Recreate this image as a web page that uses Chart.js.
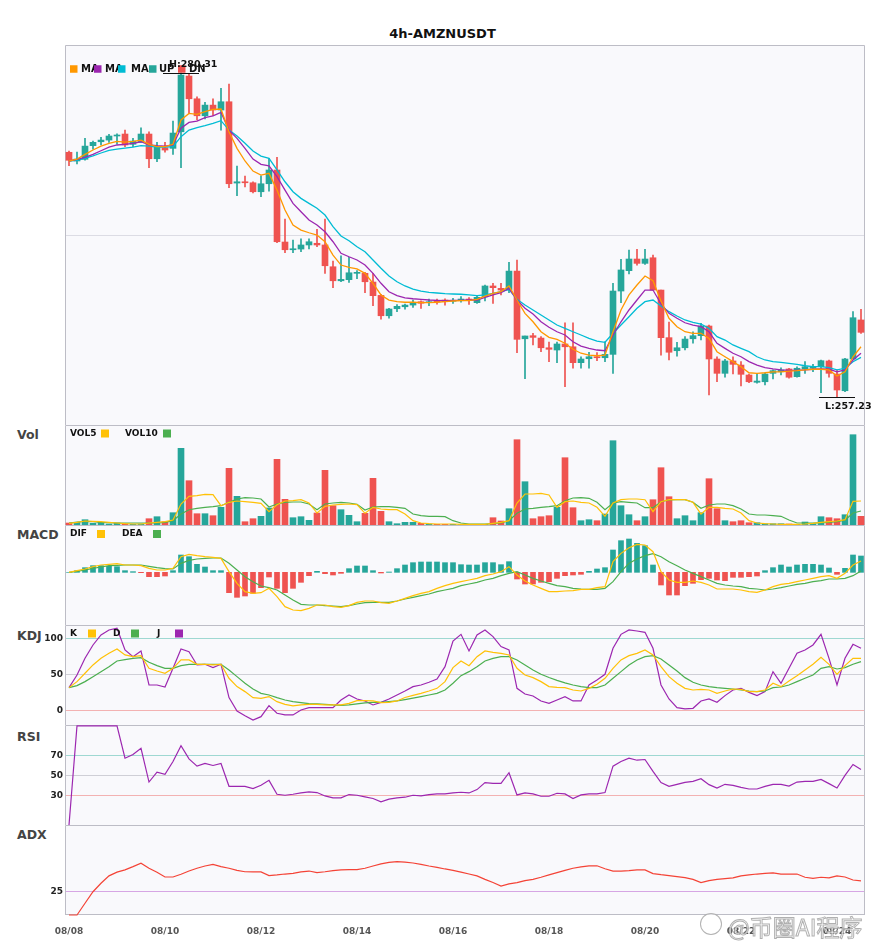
<!DOCTYPE html>
<html lang="en">
<head>
<meta charset="UTF-8">
<title>4h-AMZNUSDT</title>
<style>
  body { margin: 0; background: #fff; }
  #wrap { position: relative; width: 885px; height: 950px; font-family: "DejaVu Sans", sans-serif; overflow: hidden; }
  #wrap canvas { position: absolute; left: 0; }
  .ttl { position: absolute; left: 0; width: 885px; top: 26px; text-align: center; font-weight: bold; font-size: 13px; color: #111; }
  .lbl { position: absolute; left: 17px; font-weight: bold; font-size: 12.5px; color: #444; line-height: 15px; }
  .wm { position: absolute; left: 728px; top: 909px; font-family: "Noto Sans CJK SC", sans-serif; font-size: 23px; color: rgba(255,255,255,0.75); -webkit-text-stroke: 1px rgba(150,150,150,0.75); white-space: nowrap; }
  .logo { position: absolute; left: 700px; top: 913px; width: 20px; height: 20px; border: 1.5px solid rgba(160,160,160,0.8); border-radius: 50%; background: rgba(255,255,255,0.6); }
</style>
<script src="https://cdn.jsdelivr.net/npm/chart.js"></script>
</head>
<body>
<div id="wrap">
  <div class="ttl">4h-AMZNUSDT</div>
  <div class="lbl" style="top:427px">Vol</div>
  <div class="lbl" style="top:527px">MACD</div>
  <div class="lbl" style="top:628px">KDJ</div>
  <div class="lbl" style="top:729px">RSI</div>
  <div class="lbl" style="top:827px">ADX</div>
</div>
<script>
// 4h candles, 6 per day, first one 08/08 00:00
const dayLabels = ['08/08', '08/10', '08/12', '08/14', '08/16', '08/18', '08/20', '08/22', '08/24'];
const dayStep = 12;

const opens = [274.66, 274.04, 274.16, 275.13, 275.41, 275.53, 275.82, 275.96, 275.23, 275.37,
  275.96, 274.20, 274.98, 274.94, 276.12, 280.09, 278.47, 277.26, 278.02, 277.67,
  278.26, 272.47, 272.56, 272.49, 271.85, 272.42, 273.40, 268.27, 267.72, 267.77,
  268.06, 268.18, 268.06, 266.51, 265.51, 265.59, 266.04, 266.04, 265.42, 264.47,
  263.02, 263.52, 263.66, 263.78, 264.02, 263.95, 264.12, 264.14, 264.05, 264.09,
  264.21, 263.95, 264.37, 265.14, 264.97, 264.85, 266.20, 261.38, 261.60, 261.43,
  260.74, 260.58, 261.01, 260.81, 259.68, 259.96, 260.10, 260.03, 260.27, 264.78,
  266.23, 267.06, 266.75, 267.15, 264.85, 261.46, 260.53, 260.74, 261.38, 261.60,
  262.29, 259.94, 258.92, 259.80, 259.51, 258.80, 258.28, 258.32, 258.92, 259.03,
  259.23, 258.68, 259.23, 259.28, 259.39, 259.80, 258.87, 257.68, 259.94, 262.72];
const highs = [274.75, 274.68, 275.65, 275.46, 275.72, 275.94, 275.98, 276.24, 275.65, 276.41,
  276.12, 275.37, 275.37, 276.88, 280.31, 280.23, 278.61, 278.22, 278.47, 279.21,
  279.52, 273.68, 272.97, 272.56, 272.99, 274.23, 274.30, 269.91, 268.41, 268.50,
  268.50, 269.17, 269.91, 266.92, 267.29, 267.18, 266.23, 266.11, 266.04, 264.55,
  263.55, 263.81, 263.85, 264.14, 264.09, 264.21, 264.21, 264.23, 264.26, 264.38,
  264.32, 264.42, 265.21, 265.33, 265.33, 266.82, 266.99, 261.58, 261.77, 261.53,
  261.15, 261.15, 262.52, 262.52, 260.10, 260.42, 260.39, 261.17, 265.33, 267.04,
  267.70, 267.75, 267.75, 267.34, 264.85, 262.57, 261.13, 261.53, 261.88, 262.48,
  262.36, 260.10, 259.92, 260.10, 259.75, 258.87, 258.87, 258.96, 259.16, 259.32,
  259.28, 259.39, 259.75, 259.56, 259.87, 259.87, 259.16, 259.99, 263.31, 263.48];
const lows = [273.70, 273.84, 274.09, 274.89, 275.18, 275.37, 275.23, 275.06, 275.06, 275.37,
  273.56, 273.99, 274.66, 274.51, 273.56, 277.43, 276.96, 277.03, 277.26, 276.24,
  272.14, 271.57, 272.19, 271.76, 271.50, 271.90, 268.22, 267.51, 267.51, 267.58,
  267.77, 267.94, 266.04, 265.02, 265.44, 265.40, 265.66, 264.66, 263.73, 262.77,
  262.84, 263.31, 263.48, 263.62, 263.55, 263.73, 263.85, 263.78, 263.90, 263.98,
  263.82, 263.90, 264.07, 263.90, 264.50, 264.66, 260.39, 258.54, 260.94, 260.46,
  259.75, 259.68, 257.97, 259.28, 259.28, 259.28, 259.82, 259.75, 258.92, 263.95,
  265.99, 266.63, 266.68, 264.85, 260.22, 259.87, 260.15, 260.58, 261.06, 261.29,
  257.38, 258.32, 258.64, 258.87, 258.02, 258.25, 258.21, 258.09, 258.52, 258.80,
  258.57, 258.64, 258.92, 259.04, 257.54, 258.64, 257.23, 257.61, 259.94, 261.77];
const closes = [274.09, 274.18, 275.10, 275.37, 275.53, 275.82, 275.89, 275.18, 275.46, 275.96,
  274.20, 275.06, 274.82, 276.03, 280.16, 278.47, 277.26, 278.02, 277.67, 278.26,
  272.42, 272.56, 272.49, 271.85, 272.42, 273.40, 268.29, 267.72, 267.79, 268.06,
  268.29, 268.06, 266.58, 265.51, 265.61, 266.08, 266.11, 265.44, 264.45, 263.02,
  263.50, 263.69, 263.78, 263.98, 263.91, 264.02, 264.00, 264.02, 264.12, 264.21,
  264.10, 264.33, 265.14, 265.02, 264.85, 266.20, 261.34, 261.58, 261.48, 260.74,
  260.63, 261.01, 260.81, 259.68, 259.94, 260.10, 260.03, 260.27, 264.78, 266.28,
  267.06, 266.75, 267.06, 264.85, 261.46, 260.42, 260.74, 261.36, 261.60, 262.29,
  259.94, 258.92, 259.80, 259.56, 258.85, 258.32, 258.37, 258.87, 259.11, 259.16,
  258.64, 259.28, 259.39, 259.35, 259.82, 258.92, 257.73, 259.94, 262.88, 261.84];

const ma5 = [274.04, 274.18, 274.51, 274.82, 275.10, 275.30, 275.44, 275.39, 275.44, 275.53,
  275.23, 275.06, 275.06, 275.23, 276.96, 277.43, 277.36, 277.55, 277.72, 277.74,
  276.12, 274.94, 274.04, 273.32, 273.04, 273.16, 271.97, 270.55, 269.48, 269.12,
  268.93, 268.77, 268.29, 267.34, 266.63, 266.47, 266.35, 266.04, 265.33, 264.50,
  264.14, 264.02, 263.98, 263.98, 263.95, 263.95, 263.98, 264.02, 264.07, 264.09,
  264.10, 264.19, 264.42, 264.62, 264.73, 265.14, 264.14, 263.19, 262.59, 261.88,
  261.48, 261.34, 261.06, 260.63, 260.35, 260.22, 260.17, 260.22, 261.88, 263.43,
  264.50, 265.21, 265.85, 265.51, 264.07, 262.84, 262.24, 261.88, 261.77, 261.77,
  261.41, 260.46, 260.10, 259.75, 259.39, 258.96, 258.92, 258.96, 259.03, 259.03,
  259.08, 259.11, 259.16, 259.21, 259.21, 259.16, 258.73, 259.03, 260.10, 260.81];
const ma10 = [274.04, 274.16, 274.30, 274.51, 274.77, 275.03, 275.18, 275.23, 275.30, 275.41,
  275.18, 275.13, 275.10, 275.18, 276.37, 276.79, 276.88, 277.12, 277.26, 277.50,
  276.24, 275.65, 274.94, 274.18, 273.80, 273.70, 272.92, 271.97, 271.02, 270.43,
  269.84, 269.48, 269.00, 268.29, 267.47, 267.22, 266.99, 266.63, 266.04, 265.33,
  264.73, 264.45, 264.30, 264.23, 264.19, 264.14, 264.12, 264.09, 264.12, 264.12,
  264.14, 264.14, 264.33, 264.50, 264.66, 264.97, 264.14, 263.55, 263.14, 262.59,
  262.20, 261.88, 261.65, 261.17, 260.86, 260.70, 260.58, 260.53, 261.65, 262.59,
  263.43, 264.14, 264.85, 264.85, 263.86, 263.19, 262.84, 262.52, 262.36, 262.24,
  261.88, 261.06, 260.70, 260.35, 260.10, 259.75, 259.51, 259.32, 259.23, 259.16,
  259.13, 259.13, 259.16, 259.21, 259.23, 259.21, 259.03, 259.16, 259.87, 260.35];
const ma20 = [274.04, 274.09, 274.23, 274.41, 274.61, 274.80, 274.89, 274.96, 275.03, 275.13,
  275.10, 275.03, 275.03, 275.06, 275.77, 276.24, 276.41, 276.55, 276.72, 276.91,
  276.24, 275.82, 275.30, 274.75, 274.39, 274.23, 273.40, 272.56, 271.85, 271.38,
  271.02, 270.67, 270.19, 269.36, 268.70, 268.36, 267.93, 267.58, 266.99, 266.40,
  265.85, 265.44, 265.14, 264.92, 264.78, 264.69, 264.64, 264.59, 264.57, 264.55,
  264.50, 264.45, 264.50, 264.62, 264.73, 264.90, 264.19, 263.78, 263.43, 263.07,
  262.72, 262.36, 262.12, 261.88, 261.65, 261.41, 261.22, 261.13, 261.77, 262.36,
  262.95, 263.55, 264.02, 264.14, 263.71, 263.31, 263.00, 262.72, 262.55, 262.43,
  262.12, 261.53, 261.29, 260.94, 260.70, 260.46, 260.10, 259.87, 259.75, 259.70,
  259.63, 259.56, 259.46, 259.39, 259.39, 259.32, 259.16, 259.28, 259.75, 260.06];

// volume (K)
const vol = [2, 2.7, 5.3, 1.7, 2.7, 1, 2, 1, 0.7, 1,
  6.3, 8.3, 3.3, 12.3, 76.7, 44.3, 11.3, 11.3, 9.3, 17.7,
  56.7, 28.7, 3.3, 6.3, 8.7, 17, 65.7, 25.7, 7.3, 8.3,
  4.7, 12, 54.7, 19.3, 15.3, 9.7, 3.3, 11.7, 46.7, 13.7,
  3.3, 1.3, 2.7, 2.7, 1.7, 1, 0.7, 0.7, 0.7, 0.3,
  0.7, 0.7, 0.7, 7.3, 4, 16.3, 85.3, 43.3, 6.3, 8.3,
  9.3, 17.7, 67.3, 17.3, 4.3, 5.3, 4.3, 11, 84.3, 19.3,
  10.3, 4.3, 8.3, 25.3, 57.3, 28.3, 6.3, 9.3, 4.3, 12.3,
  46.3, 16.3, 4.3, 3.3, 4.3, 2.3, 2.3, 1.3, 1.3, 1.3,
  1, 0.7, 3, 1.3, 8.3, 7.3, 6.3, 10.3, 90.3, 8.7];
const vol5 = [1.7, 2.7, 4, 3.7, 3.3, 2.7, 2, 1.3, 1, 1,
  2, 2.7, 3.3, 5, 21, 28.7, 29.3, 30.7, 30.3, 19.3,
  22.7, 24, 23.3, 22.7, 21.7, 13.3, 20.3, 24, 24.3, 25.3,
  22, 12, 18.7, 20, 20.7, 21, 20.3, 11.7, 17.7, 16,
  15.3, 15.3, 11, 4.3, 2, 1.3, 1, 1, 1, 0.7,
  0.7, 0.7, 0.7, 1.7, 2.7, 4.3, 22, 31, 31, 31.7,
  30, 17.7, 23.3, 24, 22.7, 22, 17.7, 8.7, 22, 25.3,
  26, 26, 25.3, 13.3, 23.3, 25.3, 25.3, 25.3, 22.7, 11,
  17.7, 17.7, 16.7, 16, 12, 4.3, 2, 1.3, 1, 0.7,
  0.7, 0.7, 1, 1.7, 2.7, 3.3, 4, 5.3, 23.7, 24];
const vol10 = [2, 3, 3.7, 3.3, 2.7, 2.3, 2, 2, 2, 2,
  2, 2, 2.7, 4.3, 11, 15.3, 16.7, 17.7, 18.3, 19.3,
  22.7, 26, 27.3, 27, 26, 18, 21, 22.7, 23, 23,
  21, 15.3, 21, 22, 22.7, 22, 20.7, 15, 18, 18.3,
  18.3, 17.7, 16.7, 11, 9.3, 8.7, 8.7, 8.3, 4.3, 2,
  1, 1, 1, 1.3, 2, 4.3, 11.7, 16, 16.7, 17.7,
  18.3, 19.3, 24.3, 27, 27.3, 26.7, 22.7, 15.3, 22, 23.3,
  22.7, 22, 17.3, 17.3, 23.3, 25, 25.3, 25.3, 22.7, 16.7,
  20, 21, 21, 19.3, 16, 11, 10, 10, 9.3, 8.7,
  5, 2, 2, 2, 2.3, 2.7, 3.3, 4.7, 12, 14];

const macdHist = [0, 0.05, 0.14, 0.20, 0.20, 0.18, 0.17, 0.05, 0.02, -0.01,
  -0.13, -0.13, -0.11, 0.05, 0.52, 0.47, 0.24, 0.16, 0.05, 0.05,
  -0.61, -0.75, -0.71, -0.63, -0.46, -0.14, -0.48, -0.61, -0.48, -0.30,
  -0.10, 0.03, -0.04, -0.08, -0.03, 0.11, 0.19, 0.19, 0.05, -0.02,
  0.01, 0.11, 0.22, 0.29, 0.31, 0.31, 0.31, 0.29, 0.29, 0.23,
  0.22, 0.22, 0.29, 0.29, 0.23, 0.32, -0.20, -0.35, -0.35, -0.30,
  -0.28, -0.18, -0.10, -0.08, -0.06, 0.03, 0.10, 0.14, 0.67, 0.95,
  1.00, 0.87, 0.80, 0.22, -0.38, -0.68, -0.68, -0.40, -0.33, -0.22,
  -0.18, -0.23, -0.25, -0.15, -0.15, -0.13, -0.11, 0.05, 0.14, 0.22,
  0.16, 0.22, 0.24, 0.24, 0.22, 0.13, -0.06, 0.12, 0.52, 0.49];
const dif = [0, 0.05, 0.10, 0.17, 0.22, 0.24, 0.26, 0.22, 0.22, 0.20,
  0.12, 0.07, 0.07, 0.12, 0.47, 0.54, 0.50, 0.47, 0.45, 0.42,
  0.02, -0.33, -0.58, -0.63, -0.61, -0.48, -0.73, -1.03, -1.13, -1.15,
  -1.08, -0.98, -0.98, -1.03, -1.05, -1.00, -0.90, -0.86, -0.86, -0.91,
  -0.93, -0.86, -0.78, -0.70, -0.63, -0.58, -0.48, -0.40, -0.33, -0.28,
  -0.23, -0.18, -0.10, -0.05, 0.02, 0.17, -0.08, -0.26, -0.38, -0.48,
  -0.58, -0.58, -0.56, -0.55, -0.51, -0.51, -0.46, -0.43, 0.32, 0.57,
  0.74, 0.84, 0.82, 0.62, 0.02, -0.23, -0.30, -0.30, -0.26, -0.30,
  -0.38, -0.50, -0.50, -0.50, -0.53, -0.58, -0.60, -0.53, -0.43, -0.36,
  -0.33, -0.28, -0.23, -0.18, -0.13, -0.10, -0.18, -0.03, 0.22, 0.34];
const dea = [0, 0.03, 0.07, 0.12, 0.16, 0.20, 0.21, 0.22, 0.22, 0.22,
  0.18, 0.14, 0.11, 0.10, 0.27, 0.36, 0.40, 0.42, 0.43, 0.43,
  0.27, 0.07, -0.13, -0.28, -0.41, -0.46, -0.53, -0.68, -0.83, -0.96,
  -0.98, -0.98, -1.00, -1.01, -1.03, -1.00, -0.95, -0.91, -0.90, -0.90,
  -0.90, -0.86, -0.80, -0.75, -0.70, -0.65, -0.58, -0.53, -0.48, -0.40,
  -0.35, -0.30, -0.23, -0.18, -0.10, -0.03, 0.02, -0.08, -0.18, -0.26,
  -0.33, -0.40, -0.43, -0.48, -0.50, -0.51, -0.51, -0.48, -0.28, 0.02,
  0.27, 0.40, 0.50, 0.56, 0.47, 0.32, 0.20, 0.07, -0.03, -0.13,
  -0.23, -0.33, -0.38, -0.41, -0.43, -0.48, -0.50, -0.53, -0.50, -0.46,
  -0.41, -0.36, -0.33, -0.28, -0.25, -0.20, -0.20, -0.18, -0.10, 0.04];

const kLine = [31.8, 40.2, 51.9, 63.6, 72.9, 79.9, 86.0, 77.6, 75.2, 76.6,
  58.9, 55.1, 51.9, 58.9, 70.6, 70.6, 64.5, 64.5, 63.6, 64.5,
  44.9, 33.2, 26.2, 17.8, 16.8, 19.2, 12.1, 8.4, 6.1, 7.5,
  8.4, 8.4, 7.5, 7.5, 7.5, 9.8, 13.6, 13.6, 13.1, 10.7,
  11.2, 13.1, 18.0, 21.0, 23.8, 27.1, 30.8, 40.2, 59.8, 69.2,
  62.6, 75.2, 83.2, 81.3, 79.9, 77.6, 58.9, 49.5, 45.8, 40.2,
  33.2, 32.2, 31.8, 28.5, 27.1, 30.8, 36.4, 44.9, 58.9, 70.6,
  76.6, 79.9, 84.6, 77.6, 61.2, 47.2, 37.9, 30.8, 28.5, 29.4,
  28.5, 23.8, 27.1, 29.9, 29.4, 26.2, 26.2, 28.5, 37.9, 33.2,
  41.1, 48.6, 56.5, 64.5, 74.3, 64.5, 50.5, 62.6, 72.9, 72.9];
const dLine = [31.8, 34.6, 40.2, 47.2, 54.2, 61.2, 69.2, 71.0, 72.9, 73.8,
  67.3, 62.6, 58.9, 58.9, 62.6, 64.5, 64.5, 64.5, 64.5, 64.5,
  56.5, 47.2, 37.9, 29.9, 23.8, 21.5, 17.8, 14.5, 12.1, 10.7,
  9.3, 8.9, 8.4, 7.5, 7.0, 7.5, 8.9, 10.3, 11.2, 11.2,
  12.1, 13.1, 15.0, 17.0, 19.2, 21.5, 23.8, 28.5, 37.9, 48.6,
  54.2, 61.2, 69.2, 72.9, 75.2, 75.2, 70.6, 63.6, 56.5, 50.5,
  46.0, 42.0, 38.5, 35.5, 33.2, 31.8, 31.8, 35.5, 44.9, 54.2,
  63.6, 70.6, 75.2, 76.6, 72.0, 63.6, 55.1, 45.8, 39.3, 35.5,
  33.2, 31.8, 30.8, 29.9, 28.5, 27.1, 26.2, 27.1, 31.8, 32.7,
  35.5, 40.2, 44.9, 49.5, 58.9, 61.2, 57.9, 59.8, 64.5, 68.2];
const jLine = [31.8, 49.5, 72.9, 91.6, 105.6, 112.6, 115.0, 84.6, 75.2, 83.2,
  35.5, 35.5, 32.7, 58.9, 86.0, 82.2, 63.6, 64.5, 59.8, 64.5,
  17.8, -0.9, -7.5, -13.6, -8.9, 6.5, -4.2, -6.5, -6.5, 0.5,
  3.7, 3.7, 3.7, 3.7, 14.5, 21.5, 15.9, 13.1, 7.5, 11.2,
  15.9, 21.5, 27.1, 33.2, 35.5, 39.3, 43.9, 61.2, 97.2, 106.5,
  83.2, 105.6, 112.6, 103.3, 89.3, 84.6, 30.8, 22.9, 20.1, 13.1,
  9.8, 14.5, 19.2, 13.1, 13.1, 35.5, 42.5, 50.5, 86.9, 106.5,
  112.6, 111.2, 109.3, 86.9, 35.5, 15.9, 3.7, 1.9, 2.8, 13.1,
  15.9, 11.2, 20.6, 28.5, 30.8, 25.2, 20.6, 26.2, 54.2, 37.9,
  58.9, 79.9, 84.6, 91.6, 106.5, 72.9, 35.5, 72.9, 92.5, 86.9];

const rsi = [0, 100, 100, 100, 100, 100, 100, 67.3, 71, 77.3,
  43.3, 53.3, 51, 64, 80, 66.7, 59.3, 62, 60, 62,
  39, 39, 39, 36.7, 40, 45, 31, 30, 31, 32.3,
  33.3, 32.7, 29.3, 27.3, 27.3, 30.7, 30, 28.3, 26.7, 23.3,
  26, 27.3, 28, 30, 29.3, 30.7, 31.3, 31.3, 32.3, 33,
  32.3, 35.7, 42.7, 42, 42, 52.7, 30.3, 32.3, 31.3, 29,
  29, 32, 31.3, 26.7, 30.3, 31.3, 31.3, 32.7, 59.3, 64,
  67.3, 65.3, 66, 54, 42.7, 39, 41, 43, 44, 46.7,
  40.7, 37.3, 41, 40, 38, 36.3, 36.3, 39, 41, 41,
  39.3, 43.3, 44, 44, 46, 41.7, 37.3, 50, 61, 56];
const adx = [15, 15, 20.1, 25.1, 28.8, 32, 33.6, 34.6, 36, 37.5,
  35.3, 33.6, 31.5, 31.5, 32.7, 34.1, 35.3, 36.3, 37, 36,
  35.3, 34.4, 33.8, 33.7, 33.7, 32.1, 32.4, 32.8, 33.1, 33.7,
  34.1, 33.4, 33.8, 34.3, 34.6, 34.7, 34.7, 35.3, 36.3, 37.2,
  37.9, 38.2, 38, 37.6, 37, 36.3, 35.7, 35, 34.4, 33.6,
  32.8, 32, 30.5, 29.1, 27.6, 28.5, 29.1, 29.9, 30.5, 31.4,
  32.4, 33.4, 34.4, 35.3, 35.9, 36.3, 36.4, 35.1, 34.1, 34.1,
  34.3, 34.6, 34.6, 33, 32.5, 32.1, 31.7, 31.2, 30.5, 29.1,
  29.9, 30.5, 30.8, 31.1, 32, 32.4, 32.8, 33.1, 33.3, 32.8,
  32.8, 32.8, 31.4, 30.9, 31.4, 31.1, 32, 31.5, 30.2, 29.8];

const GREEN = '#26a69a', RED = '#ef5350';
const cats = closes.map((_, i) => String(i));
const candleColors = closes.map((c, i) => c >= opens[i] ? GREEN : RED);
Chart.defaults.font.family = "'DejaVu Sans', sans-serif";

// panel background, frame, in-plot legend, high/low marks
const framePlugin = {
  id: 'frame',
  beforeDraw(chart) {
    const a = chart.chartArea, c = chart.ctx;
    c.save();
    c.fillStyle = '#f9f9fc';
    c.fillRect(a.left, a.top, a.right - a.left, a.bottom - a.top);
    c.restore();
  },
  beforeDatasetsDraw(chart, args, o) {
    const a = chart.chartArea, c = chart.ctx;
    c.save();
    c.strokeStyle = '#bdbdc6';
    c.lineWidth = 1;
    c.beginPath();
    c.moveTo(a.left + 0.5, a.bottom);
    c.lineTo(a.left + 0.5, a.top + 0.5);
    c.lineTo(a.right - 0.5, a.top + 0.5);
    c.lineTo(a.right - 0.5, a.bottom);
    if (o.bottom) { c.moveTo(a.left, a.bottom - 0.5); c.lineTo(a.right, a.bottom - 0.5); }
    c.stroke();
    c.restore();
  },
  afterDraw(chart, args, o) {
    const a = chart.chartArea, c = chart.ctx;
    c.save();
    if (o.legend) {
      const L = o.legend;
      c.font = 'bold ' + L.size + 'px "DejaVu Sans"';
      c.textBaseline = 'middle';
      c.textAlign = 'left';
      L.items.forEach(it => {
        c.fillStyle = it.color;
        c.fillRect(it.sx, a.top + L.y - L.sq / 2, L.sq, L.sq);
        c.fillStyle = '#111';
        c.fillText(it.text, it.tx, a.top + L.y);
      });
    }
    if (o.hl) {
      const xs = chart.scales.x, ys = chart.scales.y;
      const hi = Math.max(...highs), lo = Math.min(...lows);
      const mark = (i, v, dir, txt) => {
        const x = xs.getPixelForValue(i);
        const y = Math.round(ys.getPixelForValue(v)) + 0.5;
        c.strokeStyle = '#111';
        c.lineWidth = 1;
        c.beginPath(); c.moveTo(x - 18, y); c.lineTo(x + 18, y); c.stroke();
        c.fillStyle = '#111';
        c.font = 'bold 9.5px "DejaVu Sans"';
        c.textBaseline = 'middle';
        c.fillText(txt + v.toFixed(2), x - 12, y + dir * 9);
      };
      mark(highs.indexOf(hi), hi, -1, 'H:');
      mark(lows.indexOf(lo), lo, 1, 'L:');
    }
    c.restore();
  }
};
Chart.register(framePlugin);

function xAxis(show) {
  return {
    type: 'category', offset: true, display: show,
    grid: { display: false, drawTicks: false },
    border: { display: false },
    ticks: {
      autoSkip: false, maxRotation: 0, minRotation: 0, padding: 11, color: '#555',
      font: { size: 9, weight: 'bold' },
      callback: (v, i) => i % dayStep === 0 ? dayLabels[i / dayStep] : ''
    },
    afterFit: s => {
      s.height = show ? 30 : 0;
      s.paddingLeft = 0; s.paddingRight = 0;
    }
  };
}

function yAxis(min, max, tickVals, colorOf, showLabels) {
  return {
    min: min, max: max,
    border: { display: false },
    grid: { display: tickVals.length > 0, drawTicks: false, color: ctx => colorOf(ctx.tick.value) },
    ticks: { display: showLabels, padding: 2, color: '#222', font: { size: 9, weight: 'bold' } },
    afterBuildTicks: s => { s.ticks = tickVals.map(v => ({ value: v })); },
    afterFit: s => { s.width = 65; s.paddingTop = 0; s.paddingBottom = 0; }
  };
}

function line(label, data, color, w) {
  return { type: 'line', label: label, data: data, borderColor: color, borderWidth: w || 1.3,
    pointRadius: 0, tension: 0, fill: false, order: 0, clip: 2 };
}

function panel(top, height, showX, datasets, y, frame) {
  const cv = document.createElement('canvas');
  cv.width = 885; cv.height = height; cv.style.top = top + 'px';
  document.getElementById('wrap').appendChild(cv);
  return new Chart(cv, {
    type: 'bar',
    data: { labels: cats, datasets: datasets },
    options: {
      responsive: false, animation: false, events: [],
      layout: { padding: { left: 0, right: 20, top: 0, bottom: 0 } },
      scales: { x: xAxis(showX), y: y },
      plugins: { legend: { display: false }, tooltip: { enabled: false }, frame: frame }
    }
  });
}

const gridTeal = '#9fd8d2', gridGray = '#cfcfd6', gridPink = '#f3b2b2';

// main candles
panel(45, 380, false, [
  line('MA5', ma5, '#ff9800'),
  line('MA10', ma10, '#9c27b0'),
  line('MA20', ma20, '#00bcd4'),
  { label: 'body', data: opens.map((o, i) => [o, closes[i]]), backgroundColor: candleColors,
    barThickness: 6, minBarLength: 1, grouped: false, order: 1 },
  { label: 'wick', data: lows.map((l, i) => [l, highs[i]]), backgroundColor: candleColors,
    barThickness: 1, grouped: false, order: 2 }
], yAxis(255.24, 282.30, [268.77], () => '#dcdce4', false), {
  hl: true,
  legend: { y: 24, size: 10, sq: 7.5, items: [
    { color: '#ff9800', sx: 70, text: 'MA', tx: 81 },
    { color: '#9c27b0', sx: 94, text: 'MA', tx: 105 },
    { color: '#00bcd4', sx: 118, text: 'MA', tx: 131 },
    { color: GREEN, sx: 149, text: 'UP', tx: 159 },
    { color: RED, sx: 178, text: 'DN', tx: 189 }
  ] }
});

// volume
panel(425, 100, false, [
  line('VOL5', vol5, '#ffc107', 1.2),
  line('VOL10', vol10, '#4caf50', 1.2),
  { label: 'Vol', data: vol, backgroundColor: candleColors, barThickness: 6, grouped: false, order: 1 }
], yAxis(0, 100, [], () => '#fff', false), {
  legend: { y: 8.5, size: 9, sq: 8, items: [
    { color: '#ffc107', sx: 101, text: 'VOL5', tx: 70 },
    { color: '#4caf50', sx: 163, text: 'VOL10', tx: 125 }
  ] }
});

// MACD
panel(525, 100, false, [
  line('DIF', dif, '#ffc107', 1.2),
  line('DEA', dea, '#4caf50', 1.2),
  { label: 'MACD', data: macdHist, backgroundColor: macdHist.map(v => v >= 0 ? GREEN : RED),
    barThickness: 5, grouped: false, order: 1 }
], yAxis(-1.58, 1.42, [], () => '#fff', false), {
  legend: { y: 9, size: 9, sq: 8, items: [
    { color: '#ffc107', sx: 97, text: 'DIF', tx: 70 },
    { color: '#4caf50', sx: 153, text: 'DEA', tx: 122 }
  ] }
});

// KDJ
const kdjColor = v => v === 100 ? gridTeal : v === 0 ? gridPink : gridGray;
panel(625, 100, false, [
  line('K', kLine, '#ffc107', 1.2),
  line('D', dLine, '#4caf50', 1.2),
  line('J', jLine, '#9c27b0', 1.2)
], yAxis(-20.6, 119.6, [0, 50, 100], kdjColor, true), {
  legend: { y: 8.5, size: 9, sq: 8, items: [
    { color: '#ffc107', sx: 88, text: 'K', tx: 70 },
    { color: '#4caf50', sx: 131, text: 'D', tx: 113 },
    { color: '#9c27b0', sx: 175, text: 'J', tx: 157 }
  ] }
});

// RSI
const rsiColor = v => v === 70 ? gridTeal : v === 30 ? gridPink : gridGray;
panel(725, 100, false, [
  line('RSI', rsi, '#9c27b0', 1.2)
], yAxis(0, 100.8, [30, 50, 70], rsiColor, true), {});

// ADX with the time axis
panel(825, 120, true, [
  line('ADX', adx, '#f44336', 1.2)
], yAxis(15, 54.1, [25], () => '#d6a6e4', true), { bottom: true });

// watermark overlay
const wrap = document.getElementById('wrap');
const logo = document.createElement('div'); logo.className = 'logo'; wrap.appendChild(logo);
const wm = document.createElement('div'); wm.className = 'wm'; wm.textContent = '@币圈AI程序'; wrap.appendChild(wm);
</script>
</body>
</html>
